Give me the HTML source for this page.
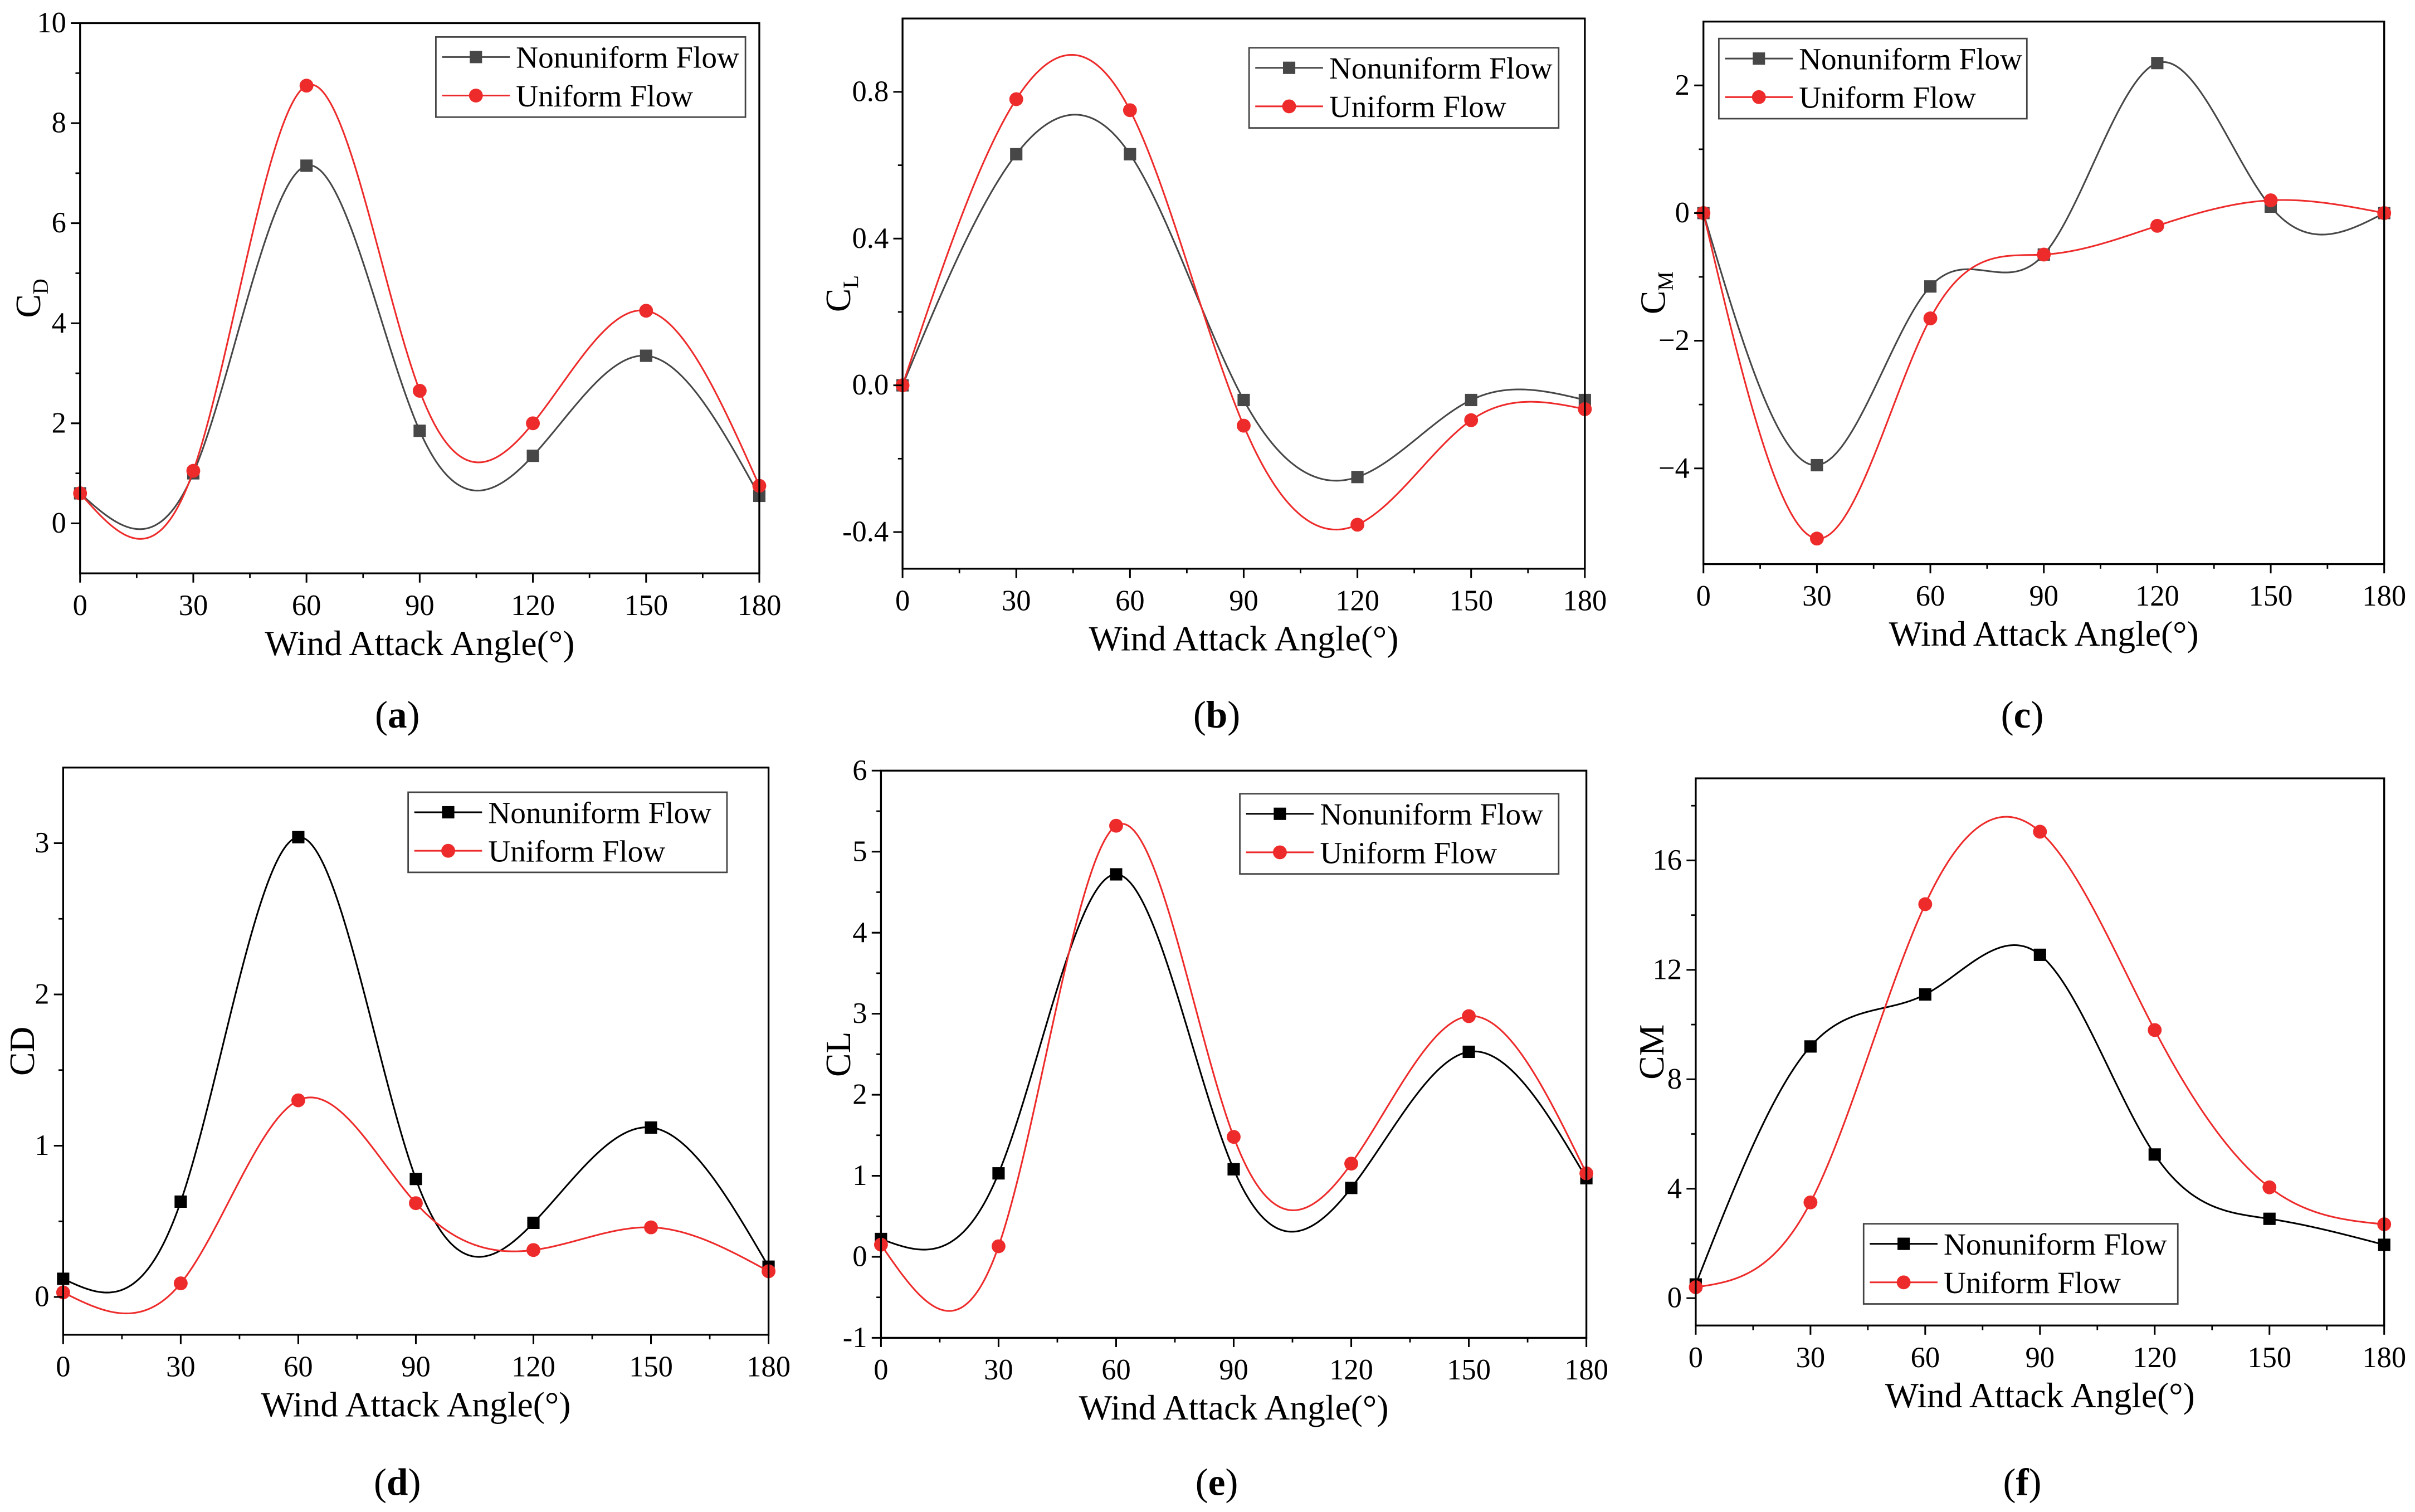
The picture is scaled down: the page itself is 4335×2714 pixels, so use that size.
<!DOCTYPE html>
<html><head><meta charset="utf-8"><style>
html,body{margin:0;padding:0;background:#fff;}
svg{display:block;}
text{font-family:"Liberation Serif",serif;}
</style></head><body>
<svg id="fig" xmlns="http://www.w3.org/2000/svg" width="4335" height="2714" viewBox="0 0 1568 981" preserveAspectRatio="none" font-family="Liberation Serif, serif"></svg>
<script>
const angles = [0,30,60,90,120,150,180];
const xTicks = [0,30,60,90,120,150,180];
const aNon = [0.6,1.0,7.15,1.85,1.35,3.35,0.55];
const aUni = [0.6,1.05,8.75,2.65,2.0,4.25,0.75];
const bNon = [0,0.63,0.63,-0.04,-0.25,-0.04,-0.04];
const bUni = [0,0.78,0.75,-0.11,-0.38,-0.095,-0.065];
const cNon = [0,-3.95,-1.15,-0.65,2.35,0.1,0];
const cUni = [0,-5.1,-1.65,-0.65,-0.2,0.2,0];
const dNon = [0.12,0.63,3.04,0.78,0.49,1.12,0.2];
const dUni = [0.03,0.09,1.3,0.62,0.31,0.46,0.17];
const eNon = [0.22,1.03,4.72,1.08,0.85,2.53,0.97];
const eUni = [0.15,0.13,5.32,1.48,1.15,2.97,1.03];
const fNon = [0.5,9.2,11.1,12.55,5.25,2.9,1.95];
const fUni = [0.4,3.5,14.4,17.05,9.8,4.05,2.7];
const aTicks = [0,2,4,6,8,10], aTickLabels = ["0","2","4","6","8","10"];
const bTicks = [-0.4,0,0.4,0.8], bTickLabels = ["-0.4","0.0","0.4","0.8"];
const cTicks = [-4,-2,0,2], cTickLabels = ["\u22124","\u22122","0","2"];
const dTicks = [0,1,2,3], dTickLabels = ["0","1","2","3"];
const eTicks = [-1,0,1,2,3,4,5,6], eTickLabels = ["-1","0","1","2","3","4","5","6"];
const fTicks = [0,4,8,12,16], fTickLabels = ["0","4","8","12","16"];

const NS="http://www.w3.org/2000/svg";
const svg=document.getElementById('fig');
const FF='Liberation Serif, serif';
function mk(tag,attrs,parent){const e=document.createElementNS(NS,tag);for(const k in attrs)e.setAttribute(k,attrs[k]);if(tag==='text')e.setAttribute('font-family',FF);(parent||svg).appendChild(e);return e;}

function spline(xs,ys){
  const n=xs.length,h=[],al=[],l=[1],mu=[0],z=[0],c=new Array(n).fill(0),b=[],d=[];
  for(let i=0;i<n-1;i++)h[i]=xs[i+1]-xs[i];
  for(let i=1;i<n-1;i++)al[i]=3/h[i]*(ys[i+1]-ys[i])-3/h[i-1]*(ys[i]-ys[i-1]);
  for(let i=1;i<n-1;i++){l[i]=2*(xs[i+1]-xs[i-1])-h[i-1]*mu[i-1];mu[i]=h[i]/l[i];z[i]=(al[i]-h[i-1]*z[i-1])/l[i];}
  for(let j=n-2;j>=0;j--){c[j]=z[j]-mu[j]*c[j+1];b[j]=(ys[j+1]-ys[j])/h[j]-h[j]*(c[j+1]+2*c[j])/3;d[j]=(c[j+1]-c[j])/(3*h[j]);}
  return x=>{let i=0;while(i<n-2&&x>xs[i+1])i++;const t=x-xs[i];return ys[i]+b[i]*t+c[i]*t*t+d[i]*t*t*t;};
}

function panel(cfg){
  const g=mk('g',{});
  
  
  const X=v=>cfg.x0+v/180*(cfg.x1-cfg.x0);
  const Y=v=>cfg.y1-(v-cfg.ymin)/(cfg.ymax-cfg.ymin)*(cfg.y1-cfg.y0);
  const clipId='clip'+cfg.id;
  const cp=mk('clipPath',{id:clipId},g);mk('rect',{x:cfg.x0,y:cfg.y0,width:cfg.x1-cfg.x0,height:cfg.y1-cfg.y0},cp);
  const sers=[{d:cfg.non,col:cfg.nonCol,shape:'sq',nm:'nonuniform-flow-series'},{d:cfg.uni,col:'#ee2b2b',shape:'ci',nm:'uniform-flow-series'}];
  sers.forEach(s=>{
    const f=spline(angles,s.d);let p='';
    for(let x=0;x<=180;x+=0.5)p+=(x?'L':'M')+X(x).toFixed(2)+','+Y(f(x)).toFixed(2);
    const path=mk('path',{d:p,fill:'none',stroke:s.col,'stroke-width':1.1,'clip-path':'url(#'+clipId+')'},g);
    
    
    s.d.forEach((v,i)=>{
      let m;
      if(s.shape==='sq')m=mk('rect',{x:X(angles[i])-4,y:Y(v)-4,width:8,height:8,fill:s.col},g);
      else m=mk('circle',{cx:X(angles[i]),cy:Y(v),r:4.5,fill:s.col},g);
      
      
    });
  });
  const box=mk('rect',{x:cfg.x0,y:cfg.y0,width:cfg.x1-cfg.x0,height:cfg.y1-cfg.y0,fill:'none',stroke:'#000','stroke-width':1.2},g);
  
  
  xTicks.forEach(t=>{
    mk('line',{x1:X(t),x2:X(t),y1:cfg.y1,y2:cfg.y1+6,stroke:'#000','stroke-width':1.1},g);
    if(t<180)mk('line',{x1:X(t+15),x2:X(t+15),y1:cfg.y1,y2:cfg.y1+3,stroke:'#000','stroke-width':1},g);
    const tx=mk('text',{x:X(t),y:cfg.y1+27,'font-size':19,'text-anchor':'middle'},g);tx.textContent=t;
    
    
  });
  cfg.ticks.forEach((t,i)=>{
    mk('line',{x1:cfg.x0-6,x2:cfg.x0,y1:Y(t),y2:Y(t),stroke:'#000','stroke-width':1.1},g);
    const mv=t+cfg.minor; if(mv<cfg.ymax) mk('line',{x1:cfg.x0-3,x2:cfg.x0,y1:Y(mv),y2:Y(mv),stroke:'#000','stroke-width':1},g);
    const tx=mk('text',{x:cfg.x0-9,y:Y(t)+6,'font-size':19,'text-anchor':'end'},g);tx.textContent=cfg.tickLabels[i];
    
    
  });
  const xt=mk('text',{x:(cfg.x0+cfg.x1)/2,y:cfg.y1+53,'font-size':23,'text-anchor':'middle'},g);xt.textContent='Wind Attack Angle(\u00b0)';
  
  
  const yc=(cfg.y0+cfg.y1)/2;
  const yt=mk('text',{x:cfg.ytx,y:yc,'font-size':23,'text-anchor':'middle',transform:'rotate(-90 '+cfg.ytx+' '+yc+')'},g);
  if(cfg.sub){yt.textContent=cfg.ylab;const ts=mk('tspan',{'font-size':14,dy:5},yt);ts.textContent=cfg.sub;}else yt.textContent=cfg.ylab;
  
  
  const L=cfg.leg;
  const lg=mk('g',{},g);
  
  
  mk('rect',{x:L[0],y:L[1],width:L[2],height:52,fill:'#fff',stroke:'#444','stroke-width':1},lg);
  [['Nonuniform Flow',cfg.nonCol,'sq'],['Uniform Flow','#ee2b2b','ci']].forEach((e,i)=>{
    const yy=L[1]+13+i*25;
    mk('line',{x1:L[0]+4,x2:L[0]+48,y1:yy,y2:yy,stroke:e[1],'stroke-width':1.1},lg);
    if(e[2]==='sq')mk('rect',{x:L[0]+22,y:yy-4,width:8,height:8,fill:e[1]},lg);else mk('circle',{cx:L[0]+26,cy:yy,r:4.5,fill:e[1]},lg);
    const t=mk('text',{x:L[0]+52,y:yy+7,'font-size':20},lg);t.textContent=e[0];
    
    
  });
  const pl=mk('text',{x:cfg.px,y:cfg.py,'font-size':25,'text-anchor':'middle'},g);
  pl.textContent='(';const bt=mk('tspan',{'font-weight':'bold'},pl);bt.textContent=cfg.id;const cl=mk('tspan',{},pl);cl.textContent=')';
  
  
}
const gray='#474747';
panel({id:'a',name:'panel-a-cd',x0:52,x1:493,y0:15,y1:372,ymin:-1,ymax:10,ticks:aTicks,tickLabels:aTickLabels,minor:1,non:aNon,uni:aUni,nonCol:gray,ylab:'C',sub:'D',ytx:26,leg:[283,24,201],px:258,py:472});
panel({id:'b',name:'panel-b-cl',x0:586,x1:1029,y0:12,y1:369,ymin:-0.5,ymax:1.0,ticks:bTicks,tickLabels:bTickLabels,minor:0.2,non:bNon,uni:bUni,nonCol:gray,ylab:'C',sub:'L',ytx:552,leg:[811,31,201],px:790,py:472});
panel({id:'c',name:'panel-c-cm',x0:1106,x1:1548,y0:14,y1:366,ymin:-5.5,ymax:3,ticks:cTicks,tickLabels:cTickLabels,minor:1,non:cNon,uni:cUni,nonCol:gray,ylab:'C',sub:'M',ytx:1081,leg:[1116,25,200],px:1313,py:472});
panel({id:'d',name:'panel-d-cd',x0:41,x1:499,y0:498,y1:866,ymin:-0.25,ymax:3.5,ticks:dTicks,tickLabels:dTickLabels,minor:0.5,non:dNon,uni:dUni,nonCol:'#000',ylab:'CD',ytx:22,leg:[265,514,207],px:258,py:970});
panel({id:'e',name:'panel-e-cl',x0:572,x1:1030,y0:500,y1:868,ymin:-1,ymax:6,ticks:eTicks,tickLabels:eTickLabels,minor:0.5,non:eNon,uni:eUni,nonCol:'#000',ylab:'CL',ytx:552,leg:[805,515,207],px:790,py:970});
panel({id:'f',name:'panel-f-cm',x0:1101,x1:1548,y0:505,y1:860,ymin:-1,ymax:19,ticks:fTicks,tickLabels:fTickLabels,minor:2,non:fNon,uni:fUni,nonCol:'#000',ylab:'CM',ytx:1080,leg:[1210,794,204],px:1313,py:970});
</script>
</body></html>
